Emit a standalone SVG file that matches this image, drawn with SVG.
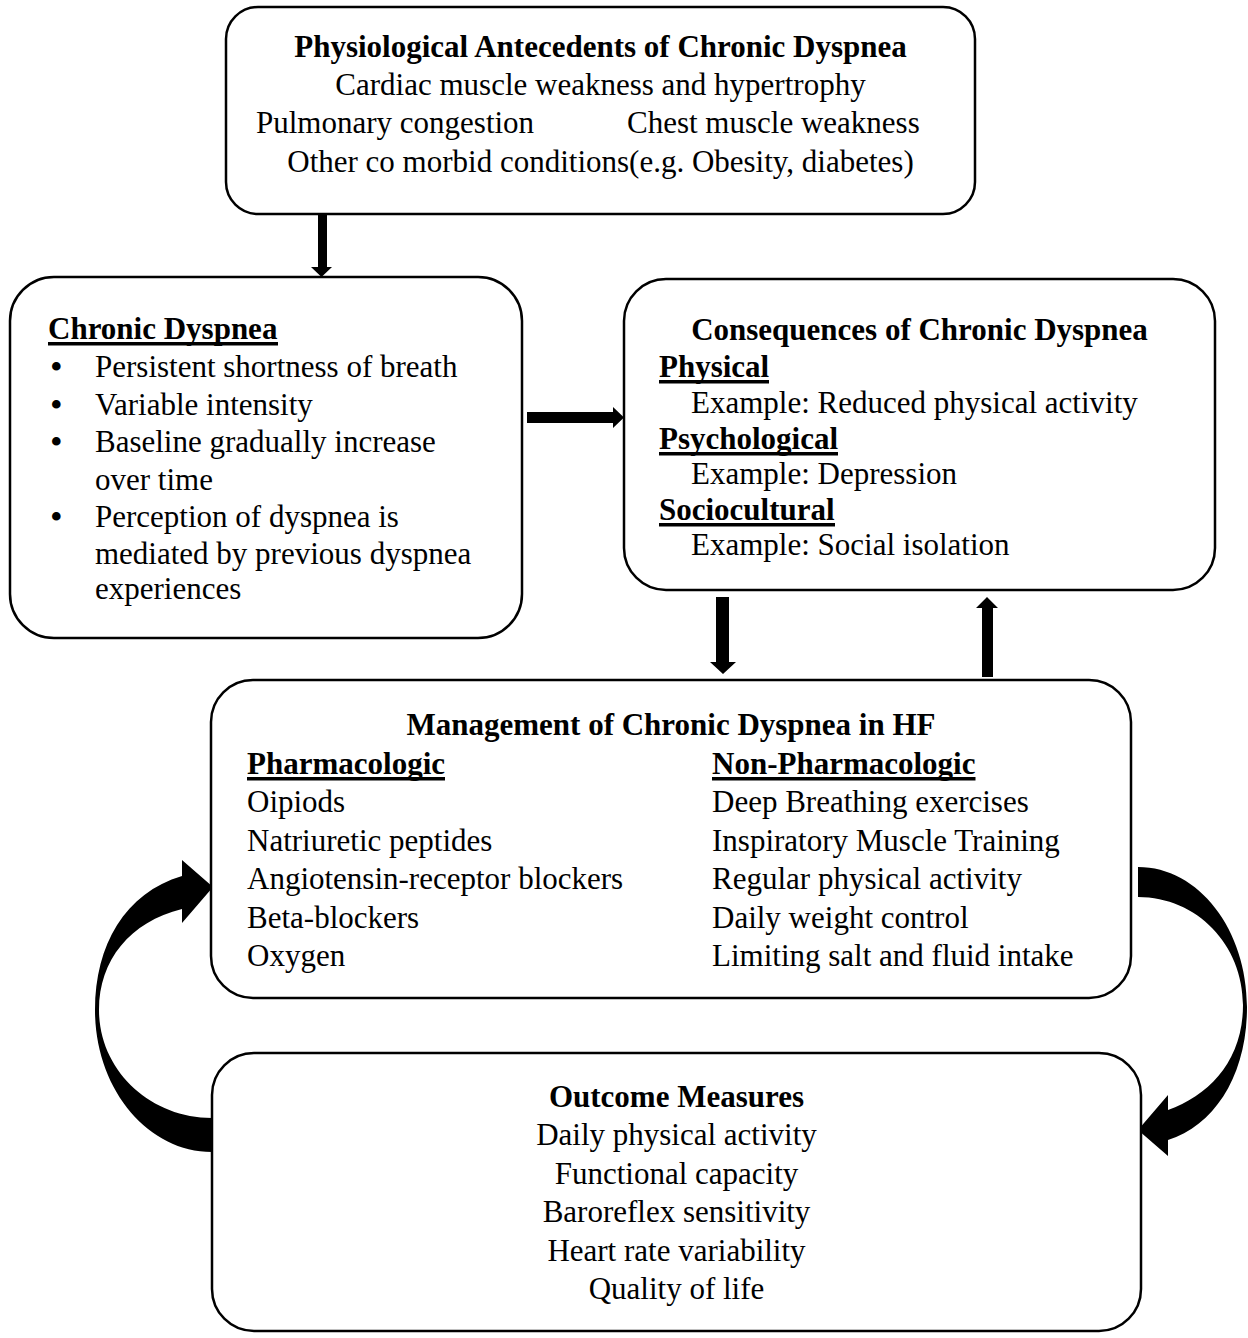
<svg xmlns="http://www.w3.org/2000/svg" width="1248" height="1338" viewBox="0 0 1248 1338">
<style>
.box{fill:#fff;stroke:#000;stroke-width:2.5}
text{font-family:"Liberation Serif","Times New Roman",serif;font-size:31px;fill:#000}
.b{font-weight:bold}
.c{text-anchor:middle}
.ul{fill:#000}
.bul{font-size:36px}
.arr{fill:#000;stroke:none}
</style>
<rect width="1248" height="1338" fill="#fff"/>
<g id="connectors">
<path class="arr" d="M318,215 H327 V267 H332 L321.5,277 L311,267 H318 Z"/>
<path class="arr" d="M527,412 H613 V407 L624,417.5 L613,428 V423 H527 Z"/>
<path class="arr" d="M716,597 H729 V662 H736 L723,674 L710,662 H716 Z"/>
<path class="arr" d="M982,677 V608 H976 L987,597 L998,608 H993 V677 Z"/>
<path class="arr" d="M212,1152 C147,1152 95,1088 95,1010 C95,945 125,893 182,876 L182,860 L213,887 L182,923 L182,909 C130,922 99,960 99,1010 C99,1070 150,1118 212,1118 Z"/>
<path class="arr" d="M1138,867 C1199,867 1247,930 1247,1007 C1247,1075 1215,1125 1168,1140 L1168,1156 L1138,1130 L1168,1095 L1168,1110 C1210,1095 1243,1060 1243,1005 C1243,945 1197,897 1138,897 Z"/>
</g>
<g id="antecedents">
<rect class="box" x="226" y="7" width="749" height="207" rx="32" ry="32"/>
<text class="b c" x="600.5" y="57">Physiological Antecedents of Chronic Dyspnea</text>
<text class="c" x="600.5" y="95">Cardiac muscle weakness and hypertrophy</text>
<text x="256" y="133">Pulmonary congestion</text>
<text x="627" y="133">Chest muscle weakness</text>
<text class="c" x="600.5" y="172">Other co morbid conditions(e.g. Obesity, diabetes)</text>
</g>
<g id="chronic-dyspnea">
<rect class="box" x="10" y="277" width="512" height="361" rx="44" ry="44"/>
<text class="b" x="48" y="339">Chronic Dyspnea</text>
<rect class="ul" x="48" y="342" width="230" height="3.5"/>
<text class="bul" x="50" y="379">•</text>
<text x="95" y="377">Persistent shortness of breath</text>
<text class="bul" x="50" y="417">•</text>
<text x="95" y="415">Variable intensity</text>
<text class="bul" x="50" y="454">•</text>
<text x="95" y="452">Baseline gradually increase</text>
<text x="95" y="490">over time</text>
<text class="bul" x="50" y="529">•</text>
<text x="95" y="527">Perception of dyspnea is</text>
<text x="95" y="564">mediated by previous dyspnea</text>
<text x="95" y="599">experiences</text>
</g>
<g id="consequences">
<rect class="box" x="624" y="279" width="591" height="311" rx="42" ry="42"/>
<text class="b c" x="919.5" y="340">Consequences of Chronic Dyspnea</text>
<text class="b" x="659" y="377">Physical</text>
<rect class="ul" x="659" y="380" width="110" height="3.5"/>
<text x="691" y="413">Example: Reduced physical activity</text>
<text class="b" x="659" y="449">Psychological</text>
<rect class="ul" x="659" y="452" width="179" height="3.5"/>
<text x="691" y="484">Example: Depression</text>
<text class="b" x="659" y="520">Sociocultural</text>
<rect class="ul" x="659" y="523" width="176" height="3.5"/>
<text x="691" y="555">Example: Social isolation</text>
</g>
<g id="management">
<rect class="box" x="211" y="680" width="920" height="318" rx="42" ry="42"/>
<text class="b c" x="671" y="735">Management of Chronic Dyspnea in HF</text>
<text class="b" x="247" y="774">Pharmacologic</text>
<rect class="ul" x="247" y="777" width="198" height="3.5"/>
<text class="b" x="712" y="774">Non-Pharmacologic</text>
<rect class="ul" x="712" y="777" width="263.5" height="3.5"/>
<text x="247" y="812">Oipiods</text>
<text x="247" y="851">Natriuretic peptides</text>
<text x="247" y="889">Angiotensin-receptor blockers</text>
<text x="247" y="928">Beta-blockers</text>
<text x="247" y="966">Oxygen</text>
<text x="712" y="812">Deep Breathing exercises</text>
<text x="712" y="851">Inspiratory Muscle Training</text>
<text x="712" y="889">Regular physical activity</text>
<text x="712" y="928">Daily weight control</text>
<text x="712" y="966">Limiting salt and fluid intake</text>
</g>
<g id="outcomes">
<rect class="box" x="212" y="1053" width="929" height="278" rx="42" ry="42"/>
<text class="b c" x="676.5" y="1107">Outcome Measures</text>
<text class="c" x="676.5" y="1145">Daily physical activity</text>
<text class="c" x="676.5" y="1184">Functional capacity</text>
<text class="c" x="676.5" y="1222">Baroreflex sensitivity</text>
<text class="c" x="676.5" y="1261">Heart rate variability</text>
<text class="c" x="676.5" y="1299">Quality of life</text>
</g>
</svg>
